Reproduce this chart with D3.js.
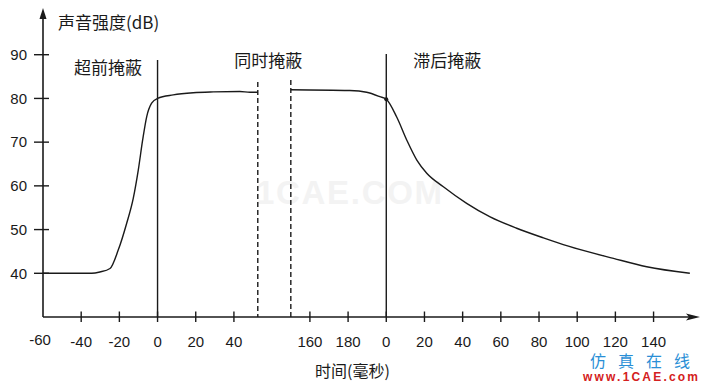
<!DOCTYPE html>
<html><head><meta charset="utf-8">
<script src="https://cdn.jsdelivr.net/npm/d3@7"></script>
<style>
html,body{margin:0;padding:0;background:#fff;}
svg{display:block;}
</style></head>
<body>
<script>
// ---- data ----
// Pre + simultaneous masking: time (ms) relative to masker onset, level (dB)
const preTime = [-60, -34.5, -30.2, -24.9, -20.6, -16.2, -12.7, -10.1, -7.8, -5.7, -3.1, 0, 8.2, 18.7, 29.2, 43.1, 48.4, 52.5];
const preDb   = [40, 40, 40.3, 41.1, 45.3, 51.4, 57.2, 63.6, 70.5, 75.8, 78.9, 80, 80.8, 81.3, 81.5, 81.6, 81.4, 81.4];
// Simultaneous tail + post masking: time (ms) relative to masker offset (masker lasts 200 ms)
const postTime = [-50, -19.1, -10.3, -3.4, 0, 5.4, 10.7, 16.0, 21.2, 29.9, 42.1, 54.4, 68.3, 82.3, 95.4, 119, 136.4, 159];
const postDb   = [82.0, 81.8, 81.4, 80.4, 79.8, 75.8, 70.5, 65.9, 62.9, 59.8, 56.0, 52.9, 50.3, 48.1, 46.2, 43.4, 41.5, 40.0];
const maskerDur = 200;
const breakStart = 52.5, breakEnd = 150;
const xTickValues = [-60, -40, -20, 0, 20, 40, 160, 180, 200, 220, 240, 260, 280, 300, 320, 340];
const xTickLabels = ["-60", "-40", "-20", "0", "20", "40", "160", "180", "0", "20", "40", "60", "80", "100", "120", "140"];
const yTickValues = [40, 50, 60, 70, 80, 90];
const regionLabels = ["超前掩蔽", "同时掩蔽", "滞后掩蔽"];
const yTitle = "声音强度(dB)";
const xTitle = "时间(毫秒)";

// ---- layout ----
const W = 701, H = 383;
const svg = d3.select("body").append("svg").attr("width", W).attr("height", H);

// unit scale (continuous display units) then broken time scale
const gapUnits = 17.3;
const u = d3.scaleLinear().domain([-60, 281.5]).range([43, 695]);
const x = d3.scaleLinear()
  .domain([-60, breakStart, breakEnd, 361.5])
  .range([u(-60), u(breakStart), u(breakStart + gapUnits), u(361.5 - (breakEnd - breakStart) + gapUnits)]);
const y = d3.scaleLinear().domain([30, 100]).range([317, 11]);

const numFont = "'Liberation Sans', Arial, sans-serif";
const cjkFont = "'Noto Sans CJK SC', 'Noto Sans', sans-serif";
const ink = "#1a1a1a";

// watermark (faint)
svg.append("text").attr("x", 349).attr("y", 204).attr("text-anchor", "middle")
  .attr("font-family", numFont).attr("font-weight", "bold").attr("font-size", 33)
  .attr("fill", "#f3f3f3").attr("textLength", 186).text("1CAE.COM");

// axes lines
const axisG = svg.append("g").attr("stroke", ink).attr("stroke-width", 1.6);
axisG.append("line").attr("x1", u(-60)).attr("x2", u(-60)).attr("y1", y(30)).attr("y2", 14);
axisG.append("line").attr("x1", u(-60)).attr("x2", 690).attr("y1", y(30)).attr("y2", y(30));
// arrows
svg.append("path").attr("d", `M${u(-60)},8 L${u(-60)-3.5},19 L${u(-60)+3.5},19 Z`).attr("fill", ink);
svg.append("path").attr("d", `M700,${y(30)} L686,${y(30)-3.5} L689,${y(30)} L686,${y(30)+3.5} Z`).attr("fill", ink);

// x axis ticks
svg.append("g").selectAll("line").data(xTickValues.slice(1)).join("line")
  .attr("x1", d => x(d)).attr("x2", d => x(d))
  .attr("y1", y(30) - 5.5).attr("y2", y(30) + 5)
  .attr("stroke", ink).attr("stroke-width", 1.4);
svg.append("g").selectAll("text").data(xTickValues).join("text")
  .attr("x", (d, i) => x(d) - (i === 0 ? 3 : 0))
  .attr("y", (d, i) => i === 0 ? 345 : 347)
  .attr("text-anchor", "middle")
  .attr("font-family", numFont).attr("font-size", 15).attr("fill", ink)
  .text((d, i) => xTickLabels[i]);

// y axis ticks
svg.append("g").selectAll("line").data(yTickValues).join("line")
  .attr("x1", u(-60) - 9).attr("x2", u(-60) + 6)
  .attr("y1", d => y(d)).attr("y2", d => y(d))
  .attr("stroke", ink).attr("stroke-width", 1.4);
svg.append("g").selectAll("text").data(yTickValues).join("text")
  .attr("x", 27).attr("y", d => y(d)).attr("dy", "0.35em")
  .attr("text-anchor", "end")
  .attr("font-family", numFont).attr("font-size", 15).attr("fill", ink)
  .text(d => d);

// vertical markers
svg.append("line").attr("x1", x(0)).attr("x2", x(0)).attr("y1", 60).attr("y2", y(30))
  .attr("stroke", ink).attr("stroke-width", 1.4);
svg.append("line").attr("x1", x(maskerDur)).attr("x2", x(maskerDur)).attr("y1", 54).attr("y2", y(30))
  .attr("stroke", ink).attr("stroke-width", 1.4);
svg.append("line").attr("x1", x(breakStart)).attr("x2", x(breakStart)).attr("y1", 82).attr("y2", y(30))
  .attr("stroke", ink).attr("stroke-width", 1.4).attr("stroke-dasharray", "5,3");
svg.append("line").attr("x1", x(breakEnd)).attr("x2", x(breakEnd)).attr("y1", 80).attr("y2", y(30))
  .attr("stroke", ink).attr("stroke-width", 1.4).attr("stroke-dasharray", "5,3");

// curves
const line = d3.line().x(d => x(d[0])).y(d => y(d[1])).curve(d3.curveMonotoneX);
const preData = preTime.map((t, i) => [t, preDb[i]]);
const postData = postTime.map((t, i) => [t + maskerDur, postDb[i]]);
svg.append("path").attr("d", line(preData)).attr("fill", "none").attr("stroke", ink).attr("stroke-width", 1.4);
svg.append("path").attr("d", line(postData)).attr("fill", "none").attr("stroke", ink).attr("stroke-width", 1.4);
svg.append("circle").attr("cx", x(maskerDur)).attr("cy", y(postDb[postTime.indexOf(0)])).attr("r", 2).attr("fill", ink);

// region labels
const labelPos = [[-26, 74], [0, 67], [232, 67]];
svg.append("g").selectAll("text").data(regionLabels).join("text")
  .attr("x", (d, i) => i === 1 ? (x(breakStart) + x(breakEnd)) / 2 - 6 : x(labelPos[i][0]))
  .attr("y", (d, i) => labelPos[i][1])
  .attr("text-anchor", "middle")
  .attr("font-family", cjkFont).attr("font-size", 17).attr("fill", ink)
  .text(d => d);

// axis titles
svg.append("text").attr("x", 58).attr("y", 29)
  .attr("font-family", cjkFont).attr("font-size", 17).attr("fill", ink).text(yTitle);
svg.append("text").attr("x", 315).attr("y", 377)
  .attr("font-family", cjkFont).attr("font-size", 16).attr("fill", ink).text(xTitle);

// site mark
svg.append("text").attr("x", 590).attr("y", 367)
  .attr("font-family", cjkFont).attr("font-size", 16).attr("fill", "#2a8fd6")
  .attr("textLength", 100).text("仿真在线");
svg.append("text").attr("x", 583).attr("y", 381)
  .attr("font-family", numFont).attr("font-weight", "bold").attr("font-size", 12).attr("fill", "#d42020")
  .attr("textLength", 115).text("www.1CAE.com");
</script>
</body></html>
